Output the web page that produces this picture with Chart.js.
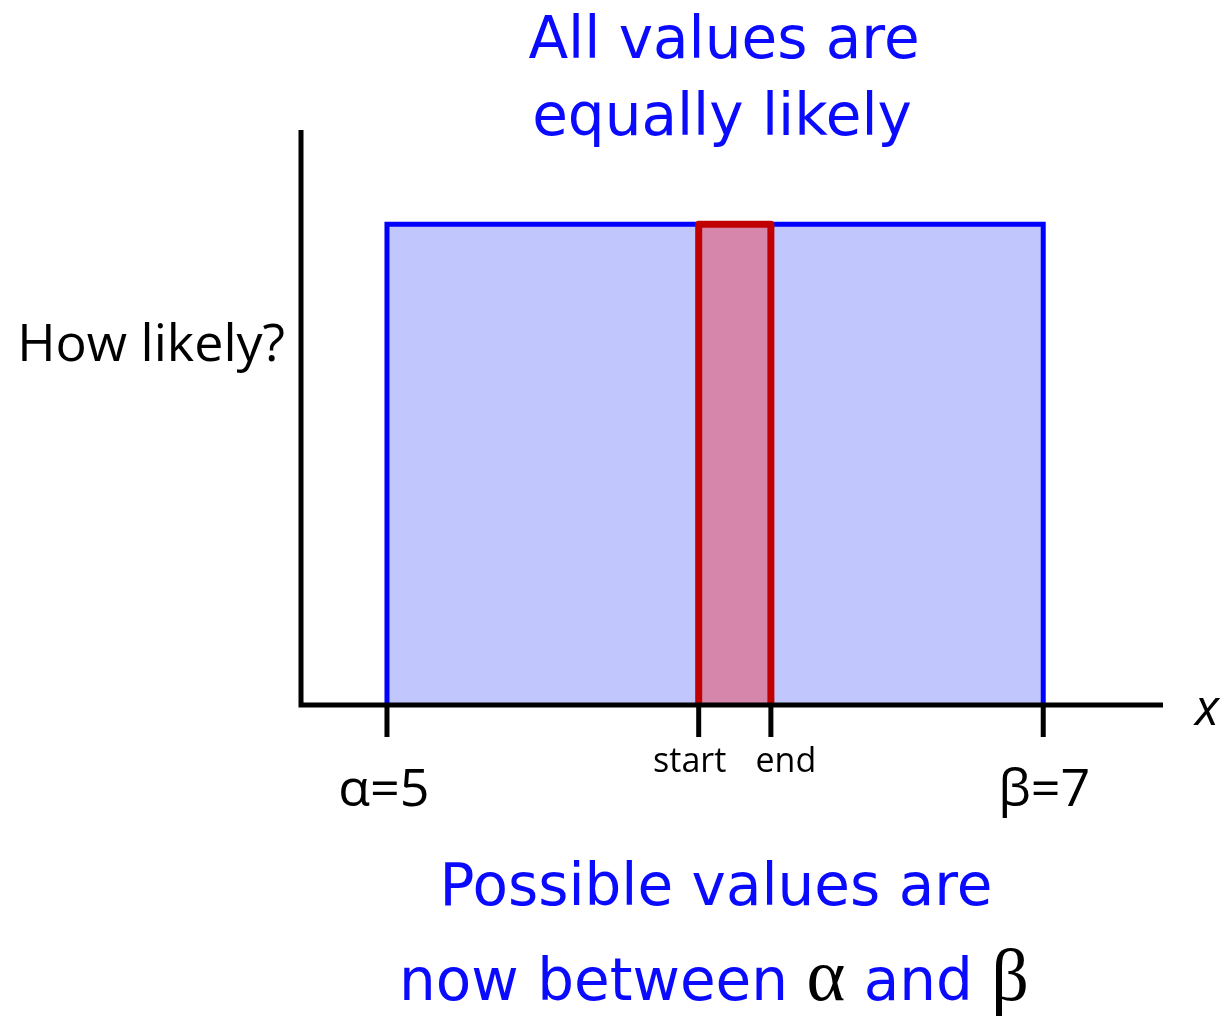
<!DOCTYPE html>
<html>
<head>
<meta charset="utf-8">
<script src="https://cdn.jsdelivr.net/npm/chart.js@4.4.1/dist/chart.umd.min.js"></script>
<style>
  html, body { margin: 0; padding: 0; background: #fff; }
  #wrap { width: 1220px; height: 1019px; }
</style>
</head>
<body>
<div id="wrap"><canvas id="uniformChart"></canvas></div>
<script>
// uniform distribution between alpha and beta
var alpha = 5;
var beta = 7;
var density = 1;
// the small interval highlighted in red
var rangeStart = 5.95;
var rangeEnd = 6.17;

var tickValues = [alpha, rangeStart, rangeEnd, beta];
var tickLabels = ['α=5', 'start', 'end', 'β=7'];

var titleLines = ['All values are', 'equally likely'];
var yAxisLabel = 'How likely?';
var xAxisLabel = 'x';

var blueRect = [
    { x: alpha, y: 0 }, { x: alpha, y: density },
    { x: beta, y: density }, { x: beta, y: 0 }
];
var redRect = [
    { x: rangeStart, y: 0 }, { x: rangeStart, y: density },
    { x: rangeEnd, y: density }, { x: rangeEnd, y: 0 }
];

var handFont = '"DejaVu Sans", sans-serif';
var plainFont = '"Open Sans", sans-serif';

// draws a line of mixed runs centred on cx
function drawRuns(c, runs, cx, y) {
    var total = 0;
    runs.forEach(function (r) { c.font = r.font; total += c.measureText(r.text).width; });
    var x = cx - total / 2;
    c.textAlign = 'left';
    runs.forEach(function (r) {
        c.font = r.font;
        c.fillStyle = r.color;
        c.fillText(r.text, x, y);
        x += c.measureText(r.text).width;
    });
}

var axesPlugin = {
    id: 'axesPlugin',
    afterDatasetsDraw: function (chart) {
        var c = chart.ctx;
        var xs = chart.scales.x, ys = chart.scales.y;
        var area = chart.chartArea;
        var x0 = area.left, yBase = ys.getPixelForValue(0);
        c.save();
        c.strokeStyle = '#000';
        c.lineWidth = 5;
        c.lineCap = 'butt';
        // axis lines
        c.beginPath();
        c.moveTo(x0, area.top);
        c.lineTo(x0, yBase + 2.5);
        c.moveTo(x0 - 2.5, yBase);
        c.lineTo(area.right, yBase);
        c.stroke();
        // tick marks
        tickValues.forEach(function (v) {
            var px = xs.getPixelForValue(v);
            c.beginPath();
            c.moveTo(px, yBase);
            c.lineTo(px, yBase + 32);
            c.stroke();
        });
        // tick labels
        c.fillStyle = '#000';
        c.textAlign = 'center';
        c.textBaseline = 'alphabetic';
        c.font = '52px ' + plainFont;
        c.fillText(tickLabels[0], xs.getPixelForValue(tickValues[0]) - 3, yBase + 101);
        c.fillText(tickLabels[3], xs.getPixelForValue(tickValues[3]) + 1, yBase + 101);
        c.font = '34px ' + plainFont;
        c.fillText(tickLabels[1], xs.getPixelForValue(tickValues[1]) - 9, yBase + 67);
        c.fillText(tickLabels[2], xs.getPixelForValue(tickValues[2]) + 15, yBase + 67);
        // axis titles
        c.font = '52px ' + plainFont;
        c.textAlign = 'right';
        c.fillText(yAxisLabel, x0 - 16, ys.getPixelForValue(0.716));
        c.font = 'italic 50px ' + plainFont;
        c.textAlign = 'left';
        c.fillText(xAxisLabel, area.right + 32, yBase + 20);
        // blue headings
        c.textBaseline = 'alphabetic';
        drawRuns(c, [{ text: titleLines[0], font: '58px ' + handFont, color: '#0a0aff' }], 724, 58);
        drawRuns(c, [{ text: titleLines[1], font: '58px ' + handFont, color: '#0a0aff' }], 722, 135);
        drawRuns(c, [{ text: 'Possible values are', font: '58px ' + handFont, color: '#0a0aff' }], 716, 905);
        drawRuns(c, [
            { text: 'now between ', font: '58px ' + handFont, color: '#0a0aff' },
            { text: 'α', font: '74px "Liberation Serif", serif', color: '#000' },
            { text: ' and ', font: '58px ' + handFont, color: '#0a0aff' },
            { text: 'β', font: '74px "Liberation Serif", serif', color: '#000' }
        ], 714, 1000);
        c.restore();
    }
};

var ctx = document.getElementById('uniformChart').getContext('2d');
var uniformChart = new Chart(ctx, {
    type: 'line',
    data: {
        datasets: [{
            label: 'start to end',
            data: redRect,
            borderColor: '#c00000',
            backgroundColor: '#d686aa',
            borderWidth: 7,
            fill: 'origin',
            pointRadius: 0,
            borderJoinStyle: 'round',
            order: 0
        }, {
            label: 'uniform',
            data: blueRect,
            borderColor: '#0000ff',
            backgroundColor: '#c1c6fd',
            borderWidth: 5,
            fill: 'origin',
            pointRadius: 0,
            order: 1
        }]
    },
    options: {
        responsive: true,
        maintainAspectRatio: false,
        animation: false,
        layout: {
            padding: { left: 301, right: 57, top: 130, bottom: 314 }
        },
        scales: {
            x: { type: 'linear', display: false, min: 4.738, max: 7.365 },
            y: { type: 'linear', display: false, min: 0, max: 1.196 }
        },
        plugins: {
            legend: { display: false },
            tooltip: { enabled: false }
        }
    },
    plugins: [axesPlugin]
});
</script>
</body>
</html>
